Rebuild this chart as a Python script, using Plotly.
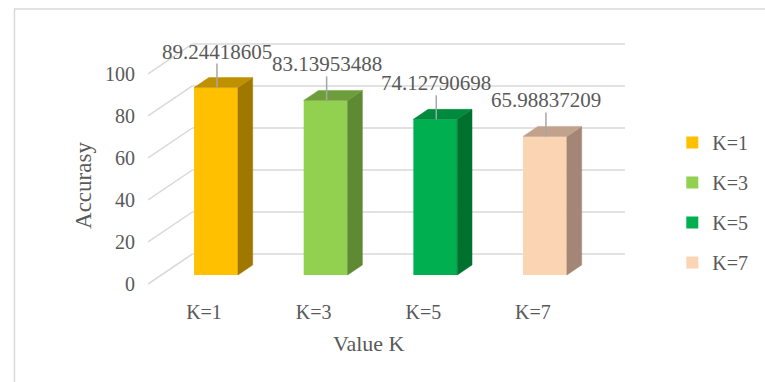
import plotly.graph_objects as go

# ---- data ----
categories = ["K=1", "K=3", "K=5", "K=7"]
accuracy = [89.24418605, 83.13953488, 74.12790698, 65.98837209]
y_ticks = [0, 20, 40, 60, 80, 100]

# ---- styling ----
front_colors = ["#FFC000", "#92D050", "#00B050", "#FBD4B4"]
top_colors = ["#BF9000", "#6E9E3C", "#008A3E", "#C2A28C"]
side_colors = ["#A07800", "#5E8A34", "#00712F", "#A38675"]
TEXT = "#595959"
GRID = "#D9D9D9"
FONT = "Liberation Serif"

W, H = 765, 382
M_L, M_R, M_T, M_B = 148, 133, 40, 92
PW = W - M_L - M_R
PH = H - M_T - M_B
X_RANGE = [-0.62, 3.73]
Y_RANGE = [-7.14, 111.9]
BAR_W = 0.4

# pixel -> data-unit conversions for the oblique (pseudo-3D) depth offsets
PX_X = PW / (X_RANGE[1] - X_RANGE[0])
PX_Y = PH / (Y_RANGE[1] - Y_RANGE[0])


def dx(p):
    return p / PX_X


def dy(p):
    return p / PX_Y


def paper_x(px):
    return (px - M_L) / PW


def paper_y(py):
    return (H - M_B - py) / PH


# depth offsets in pixels, relative to the bars' front plane
FRONT_DX, FRONT_DY = 13.5, 9      # front edge of the side wall
BACK_DX, BACK_DY = 31.5, 21       # back wall
BAR_DX, BAR_DY = 15, 10           # bar thickness

fig = go.Figure()

# front faces of the columns
for i, (cat, val) in enumerate(zip(categories, accuracy)):
    fig.add_trace(go.Bar(
        x=[i], y=[val], width=BAR_W, name=cat, legendgroup=cat,
        marker=dict(color=front_colors[i], line=dict(width=0)),
        hoverinfo="skip",
    ))

# side and top faces
for i, val in enumerate(accuracy):
    xl, xr = i - BAR_W / 2, i + BAR_W / 2
    fig.add_trace(go.Scatter(
        x=[xr, xr + dx(BAR_DX), xr + dx(BAR_DX), xr, xr],
        y=[0, dy(BAR_DY), val + dy(BAR_DY), val, 0],
        fill="toself", fillcolor=side_colors[i], mode="lines",
        line=dict(color=side_colors[i], width=0.5),
        showlegend=False, hoverinfo="skip",
    ))
    fig.add_trace(go.Scatter(
        x=[xl, xr, xr + dx(BAR_DX), xl + dx(BAR_DX), xl],
        y=[val, val, val + dy(BAR_DY), val + dy(BAR_DY), val],
        fill="toself", fillcolor=top_colors[i], mode="lines",
        line=dict(color=top_colors[i], width=0.5),
        showlegend=False, hoverinfo="skip",
    ))

# data label leader lines and labels
for i, val in enumerate(accuracy):
    fig.add_trace(go.Scatter(
        x=[i + dx(1), i + dx(1)], y=[val, val + dy(24)], mode="lines",
        line=dict(color="#A6A6A6", width=1.5),
        showlegend=False, hoverinfo="skip",
    ))
    fig.add_annotation(
        x=i, y=val, text=str(val), showarrow=False, yshift=36, xshift=1,
        font=dict(family=FONT, size=21, color=TEXT),
    )

# walls: back-wall gridlines and side-wall diagonals
shapes = []
wall_front_x = X_RANGE[0]
wall_back_x = X_RANGE[0] + dx(FRONT_DX + BACK_DX)
for v in y_ticks:
    yb = v + dy(BACK_DY)
    yf = v - dy(FRONT_DY)
    shapes.append(dict(type="line", xref="x", yref="y", layer="below",
                       x0=wall_back_x, x1=X_RANGE[1], y0=yb, y1=yb,
                       line=dict(color=GRID, width=1.5)))
    shapes.append(dict(type="line", xref="x", yref="y", layer="below",
                       x0=wall_front_x, x1=wall_back_x, y0=yf, y1=yb,
                       line=dict(color=GRID, width=1.5)))

# chart frame
shapes.append(dict(type="rect", xref="paper", yref="paper", layer="below",
                   x0=paper_x(12.5), x1=2, y0=-1, y1=paper_y(9),
                   line=dict(color=GRID, width=1.5), fillcolor="rgba(0,0,0,0)"))

fig.add_annotation(text="Value K", xref="paper", yref="paper",
                   x=paper_x(372.5), y=paper_y(343), xanchor="center", yanchor="middle",
                   showarrow=False,
                   font=dict(family=FONT, size=22, color=TEXT))
fig.add_annotation(text="Accurasy", xref="paper", yref="paper",
                   x=paper_x(82), y=paper_y(185), xanchor="center", yanchor="middle",
                   showarrow=False, textangle=-90,
                   font=dict(family=FONT, size=23, color=TEXT))

fig.update_layout(
    width=W, height=H,
    margin=dict(l=M_L, r=M_R, t=M_T, b=M_B, pad=0),
    paper_bgcolor="white", plot_bgcolor="white",
    barmode="overlay",
    shapes=shapes,
    font=dict(family=FONT, color=TEXT),
    xaxis=dict(range=X_RANGE, tickvals=list(range(len(categories))), ticktext=categories,
               showgrid=False, zeroline=False, showline=False, ticks="",
               tickfont=dict(family=FONT, size=20, color=TEXT),
               ticklabelshift=-12, ticklabelstandoff=8, fixedrange=True),
    yaxis=dict(range=Y_RANGE, tickvals=y_ticks,
               showgrid=False, zeroline=False, showline=False, ticks="",
               tickfont=dict(family=FONT, size=20, color=TEXT),
               ticklabelshift=9, ticklabelstandoff=12, fixedrange=True),
    legend=dict(x=paper_x(680), y=paper_y(123), xanchor="left", yanchor="top",
                traceorder="grouped", tracegroupgap=11,
                font=dict(family=FONT, size=20, color=TEXT),
                bgcolor="rgba(0,0,0,0)"),
    showlegend=True,
)

fig.write_html("out.html")
